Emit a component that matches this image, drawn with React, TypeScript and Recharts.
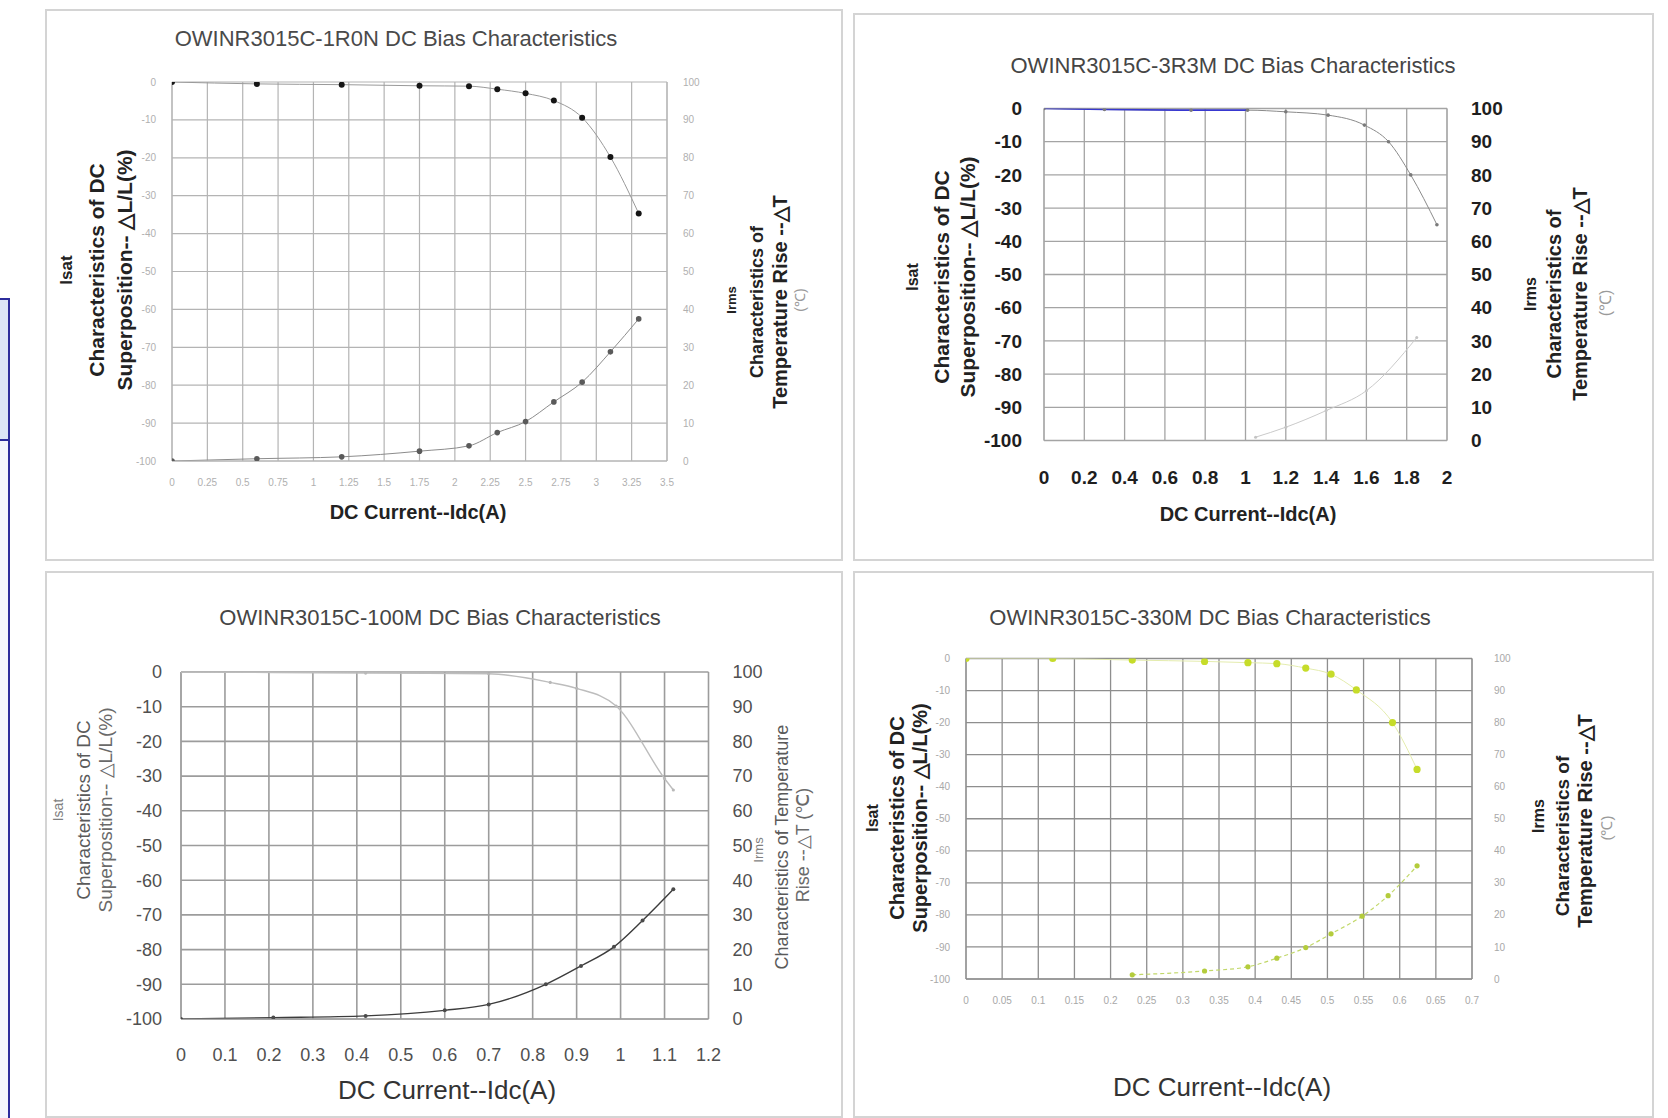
import { LineChart, Line, XAxis, YAxis, CartesianGrid } from 'recharts'

const FONT = '"Liberation Sans", Arial, sans-serif'

// shared axis ticks
const lTicks = [-100, -90, -80, -70, -60, -50, -40, -30, -20, -10, 0]
const rTicks = [0, 10, 20, 30, 40, 50, 60, 70, 80, 90, 100]

// OWINR3015C-1R0N
const xTicks1 = [0, 0.25, 0.5, 0.75, 1, 1.25, 1.5, 1.75, 2, 2.25, 2.5, 2.75, 3, 3.25, 3.5]
const idc1 = [0, 0.6, 1.2, 1.75, 2.1, 2.3, 2.5, 2.7, 2.9, 3.1, 3.3]
const dL1 = [0, -0.5, -0.7, -1, -1.1, -1.9, -3, -4.9, -9.4, -19.8, -34.7]
const dT1 = [0, 0.6, 1.1, 2.6, 4, 7.5, 10.4, 15.6, 20.8, 28.8, 37.5]

// OWINR3015C-3R3M
const xTicks2 = [0, 0.2, 0.4, 0.6, 0.8, 1, 1.2, 1.4, 1.6, 1.8, 2]
const idc2 = [0, 0.3, 0.73, 1.01, 1.2, 1.41, 1.59, 1.71, 1.82, 1.95]
const dL2 = [0, -0.3, -0.5, -0.5, -1, -2, -5, -10, -20, -35]
const idc2T = [1.05, 1.2, 1.4, 1.6, 1.85]
const dT2 = [1, 4, 9, 15, 31]

// OWINR3015C-100M
const xTicks3 = [0, 0.1, 0.2, 0.3, 0.4, 0.5, 0.6, 0.7, 0.8, 0.9, 1, 1.1, 1.2]
const idc3 = [0, 0.42, 0.7, 0.84, 0.9, 0.99, 1.1, 1.12]
const dL3 = [0, -0.3, -0.5, -3, -4.7, -9.8, -30.7, -34]
const idc3T = [0, 0.21, 0.42, 0.6, 0.7, 0.83, 0.91, 0.985, 1.05, 1.12]
const dT3 = [0, 0.4, 0.9, 2.5, 4.2, 10, 15.3, 20.8, 28.4, 37.4]

// OWINR3015C-330M
const xTicks4 = [0, 0.05, 0.1, 0.15, 0.2, 0.25, 0.3, 0.35, 0.4, 0.45, 0.5, 0.55, 0.6, 0.65, 0.7]
const idc4 = [0, 0.12, 0.23, 0.33, 0.39, 0.43, 0.47, 0.505, 0.54, 0.59, 0.624]
const dL4 = [0, 0, -0.5, -0.9, -1.3, -1.6, -3, -4.9, -9.8, -20, -34.6]
const idc4T = [0.23, 0.33, 0.39, 0.43, 0.47, 0.505, 0.548, 0.584, 0.624]
const dT4 = [1.3, 2.5, 3.8, 6.5, 9.8, 14.1, 19.6, 26, 35.3]

const pts = (xs: number[], ys: number[]) => xs.map((x, i) => ({ x, y: ys[i] }))

const Rot = ({ x, y, size, bold, color = '#222', text }: any) => (
  <div
    style={{
      position: 'absolute', left: x, top: y, whiteSpace: 'nowrap', lineHeight: 1,
      transform: 'translate(-50%,-50%) rotate(-90deg)',
      fontSize: size, fontWeight: bold ? 700 : 400, color, fontFamily: FONT,
    }}
  >
    {text}
  </div>
)

const Flat = ({ x, y, size, bold, color = '#222', text, spacing = 0 }: any) => (
  <div
    style={{
      position: 'absolute', left: x, top: y, whiteSpace: 'nowrap', lineHeight: 1,
      transform: 'translate(-50%,-50%)', letterSpacing: spacing,
      fontSize: size, fontWeight: bold ? 700 : 400, color, fontFamily: FONT,
    }}
  >
    {text}
  </div>
)

function BiasChart({ c }: any) {
  const tick = { fontSize: c.tickSize, fill: c.tickColor, fontWeight: c.tickBold ? 700 : 400, fontFamily: FONT }
  return (
    <div style={{ position: 'absolute', left: c.left, top: c.top, width: c.w, height: c.h, background: '#fff' }}>
      <div style={{ position: 'absolute', inset: 0, border: '2px solid #d4d4d4' }} />
      <div style={{ position: 'absolute', left: 0, top: 0 }}>
        <LineChart width={c.w} height={c.h} margin={{ top: c.plot.t, right: 0, bottom: 0, left: 0 }}>
          <CartesianGrid stroke={c.grid} strokeWidth={c.gridW} />
          <XAxis
            type="number" dataKey="x" domain={[0, c.xTicks[c.xTicks.length - 1]]} ticks={c.xTicks}
            interval={0} allowDataOverflow height={c.h - c.plot.b}
            tick={tick} tickLine={false} tickMargin={c.xMargin} axisLine={{ stroke: c.grid }}
          />
          <YAxis
            domain={[-100, 0]} ticks={lTicks} interval={0} allowDataOverflow width={c.plot.l}
            tick={tick} tickLine={false} tickMargin={c.lMargin} axisLine={{ stroke: c.grid }}
          />
          <YAxis
            yAxisId="r" orientation="right" domain={[0, 100]} ticks={rTicks} interval={0} allowDataOverflow
            width={c.w - c.plot.r} tick={tick} tickLine={false} tickMargin={c.rMargin} axisLine={{ stroke: c.grid }}
          />
          {c.series.map((s: any) => (
            <Line
              key={s.name} name={s.name} data={s.data} dataKey="y" yAxisId={s.right ? 'r' : 0}
              type="monotone" stroke={s.stroke} strokeWidth={s.width ?? 1} strokeDasharray={s.dash}
              dot={s.dot ? { r: s.dot.r, fill: s.dot.fill, stroke: s.dot.fill, strokeWidth: 0 } : false}
              activeDot={false} isAnimationActive={false}
            />
          ))}
        </LineChart>
      </div>
      {c.texts.map((t: any, i: number) =>
        t.rot ? <Rot key={i} {...t} /> : <Flat key={i} {...t} />
      )}
    </div>
  )
}

const chart1 = {
  left: 45, top: 9, w: 798, h: 552,
  plot: { l: 127, r: 622, t: 73, b: 452 },
  xTicks: xTicks1, grid: '#b4b4b4', gridW: 1.2,
  tickSize: 10, tickColor: '#b0b0b0', tickBold: false, xMargin: 12, lMargin: 10, rMargin: 10,
  series: [
    { name: 'dL', data: pts(idc1, dL1), stroke: '#9a9a9a', dot: { r: 3, fill: '#151515' } },
    { name: 'dT', data: pts(idc1, dT1), stroke: '#8c8c8c', right: true, dot: { r: 2.8, fill: '#5a5a5a' } },
  ],
  texts: [
    { x: 351, y: 30, size: 22, color: '#4a4a4a', text: 'OWINR3015C-1R0N DC Bias Characteristics' },
    { rot: true, x: 21, y: 261, size: 17, bold: true, text: 'Isat' },
    { rot: true, x: 51, y: 261, size: 21, bold: true, text: 'Characteristics of DC' },
    { rot: true, x: 79, y: 261, size: 21, bold: true, text: 'Superposition-- △L/L(%)' },
    { rot: true, x: 686, y: 291, size: 13, bold: true, text: 'Irms' },
    { rot: true, x: 712, y: 293, size: 18, bold: true, text: 'Characteristics of' },
    { rot: true, x: 735, y: 293, size: 20, bold: true, text: 'Temperature Rise --△T' },
    { rot: true, x: 755, y: 291, size: 14, color: '#9a9a9a', text: '(℃)' },
    { x: 373, y: 503, size: 20, bold: true, text: 'DC Current--Idc(A)' },
  ],
}

const chart2 = {
  left: 853, top: 13, w: 801, h: 548,
  plot: { l: 191, r: 594, t: 95.5, b: 427.5 },
  xTicks: xTicks2, grid: '#a4a4a4', gridW: 1.3,
  tickSize: 19, tickColor: '#1e1e1e', tickBold: true, xMargin: 24, lMargin: 16, rMargin: 18,
  series: [
    { name: 'dL', data: pts(idc2, dL2), stroke: '#8a8a8a', dot: { r: 1.8, fill: '#7a7a7a' } },
    { name: 'dLlow', data: pts(idc2.slice(0, 4), dL2.slice(0, 4)), stroke: '#3838d0', width: 1.6 },
    { name: 'dT', data: pts(idc2T, dT2), stroke: '#cacaca', right: true, dot: { r: 1.5, fill: '#c4c4c4' } },
  ],
  texts: [
    { x: 380, y: 53, size: 22, color: '#454545', text: 'OWINR3015C-3R3M DC Bias Characteristics' },
    { rot: true, x: 60, y: 264, size: 16, bold: true, text: 'Isat' },
    { rot: true, x: 88, y: 264, size: 21, bold: true, text: 'Characteristics of DC' },
    { rot: true, x: 114, y: 264, size: 21, bold: true, text: 'Superposition-- △L/L(%)' },
    { rot: true, x: 678, y: 281, size: 16, bold: true, text: 'Irms' },
    { rot: true, x: 701, y: 281, size: 20, bold: true, text: 'Characteristics of' },
    { rot: true, x: 727, y: 281, size: 20, bold: true, text: 'Temperature Rise --△T' },
    { rot: true, x: 753, y: 290, size: 16, color: '#9a9a9a', text: '(℃)' },
    { x: 395, y: 501, size: 20, bold: true, text: 'DC Current--Idc(A)' },
  ],
}

const chart3 = {
  left: 45, top: 571, w: 798, h: 547,
  plot: { l: 136, r: 663.5, t: 101, b: 448 },
  xTicks: xTicks3, grid: '#9c9c9c', gridW: 1.6,
  tickSize: 18, tickColor: '#505050', tickBold: false, xMargin: 23, lMargin: 13, rMargin: 18,
  series: [
    { name: 'dL', data: pts(idc3, dL3), stroke: '#bdbdbd', width: 1.4, dot: { r: 1.6, fill: '#b8b8b8' } },
    { name: 'dT', data: pts(idc3T, dT3), stroke: '#3c3c3c', width: 1.4, right: true, dot: { r: 2, fill: '#4a4a4a' } },
  ],
  texts: [
    { x: 395, y: 47, size: 22, color: '#454545', text: 'OWINR3015C-100M DC Bias Characteristics' },
    { rot: true, x: 13, y: 239, size: 14, color: '#808080', text: 'Isat' },
    { rot: true, x: 38, y: 239, size: 19, color: '#5a5a5a', text: 'Characteristics of DC' },
    { rot: true, x: 60, y: 239, size: 19, color: '#6a6a6a', text: 'Superposition-- △L/L(%)' },
    { rot: true, x: 713, y: 279, size: 13, color: '#808080', text: 'Irms' },
    { rot: true, x: 737, y: 276, size: 18, color: '#5a5a5a', text: 'Characteristics of Temperature' },
    { rot: true, x: 758, y: 274, size: 18, color: '#6a6a6a', text: 'Rise --△T (℃)' },
    { x: 402, y: 519, size: 26, color: '#333', text: 'DC Current--Idc(A)' },
  ],
}

const chart4 = {
  left: 853, top: 571, w: 801, h: 547,
  plot: { l: 113, r: 619, t: 87.5, b: 408 },
  xTicks: xTicks4, grid: '#8e8e8e', gridW: 1.3,
  tickSize: 10, tickColor: '#a8a8a8', tickBold: false, xMargin: 12, lMargin: 10, rMargin: 16,
  series: [
    { name: 'dL', data: pts(idc4, dL4), stroke: '#e4ecae', dot: { r: 3.6, fill: '#c6dc2a' } },
    { name: 'dT', data: pts(idc4T, dT4), stroke: '#c2d86a', width: 1.2, dash: '4 3', right: true, dot: { r: 2.6, fill: '#b4cc3c' } },
  ],
  texts: [
    { x: 357, y: 47, size: 22, color: '#454545', text: 'OWINR3015C-330M DC Bias Characteristics' },
    { rot: true, x: 20, y: 247, size: 16, bold: true, text: 'Isat' },
    { rot: true, x: 44, y: 247, size: 20, bold: true, text: 'Characteristics of DC' },
    { rot: true, x: 67, y: 247, size: 20, bold: true, text: 'Superposition-- △L/L(%)' },
    { rot: true, x: 686, y: 245, size: 16, bold: true, text: 'Irms' },
    { rot: true, x: 709, y: 265, size: 19, bold: true, text: 'Characteristics of' },
    { rot: true, x: 732, y: 250, size: 20, bold: true, text: 'Temperature Rise --△T' },
    { rot: true, x: 753, y: 257, size: 15, color: '#9a9a9a', text: '(℃)' },
    { x: 369, y: 516, size: 26, color: '#333', text: 'DC Current--Idc(A)' },
  ],
}

export default function App() {
  return (
    <div style={{ position: 'absolute', left: 0, top: 0, width: 1668, height: 1118, background: '#fff', overflow: 'hidden' }}>
      {/* cut-off table edge on the left */}
      <div style={{ position: 'absolute', left: 0, top: 298, width: 8, height: 139, background: '#dbe4f7', border: '2px solid #2c2c9c', borderLeft: 'none' }} />
      <div style={{ position: 'absolute', left: 0, top: 441, width: 8, height: 677, background: '#f3f5fc', borderRight: '2px solid #2c2c9c' }} />
      <BiasChart c={chart1} />
      <BiasChart c={chart2} />
      <BiasChart c={chart3} />
      <BiasChart c={chart4} />
    </div>
  )
}
